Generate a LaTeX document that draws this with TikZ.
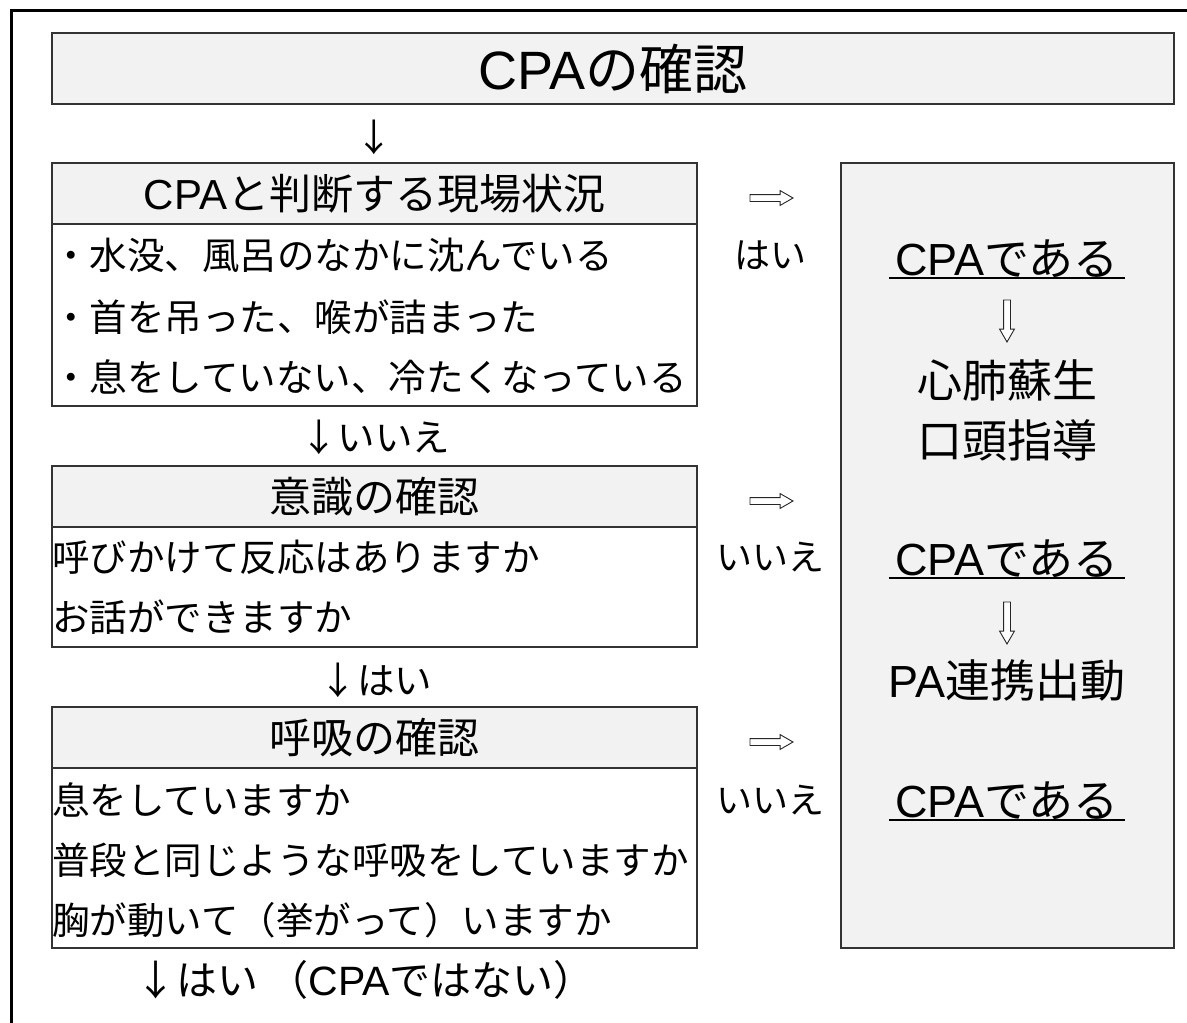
\documentclass[tikz,border=0pt]{standalone}
\usepackage{fontspec}
\setmainfont{Noto Sans CJK JP}
\newfontfamily\latinf{Liberation Sans}
\usetikzlibrary{shapes.arrows}
\definecolor{boxgray}{HTML}{F2F2F2}
\definecolor{edge}{HTML}{333333}
\newcommand\fsTitle{\fontsize{54}{60}\selectfont}
\newcommand\fsHead{\fontsize{42}{48}\selectfont}
\newcommand\fsBody{\fontsize{37.5}{44}\selectfont}
\newcommand\fsLab{\fontsize{36}{42}\selectfont}
\newcommand\fsBig{\fontsize{45}{52}\selectfont}
\newcommand\fsBot{\fontsize{41}{46}\selectfont}
\newcommand\LT[1]{{\latinf #1}}
\tikzset{
  box/.style={draw=edge, line width=1.6pt, inner sep=0pt, rectangle},
  hdrbox/.style={box, fill=boxgray, minimum width=645pt, minimum height=61pt,
    font=\fsHead, text height=37pt, text depth=5pt},
  bodybox/.style={box, fill=white, minimum width=645pt},
  rowtxt/.style={anchor=west, inner sep=0pt, font=\fsBody, text height=33pt, text depth=4.5pt},
  labtxt/.style={inner sep=0pt, font=\fsLab, text height=31.7pt, text depth=4.3pt},
  bigtxt/.style={inner sep=0pt, font=\fsBig, text height=39.6pt, text depth=5.4pt},
  flowtxt/.style={inner sep=0pt, font=\fsBody, text height=33pt, text depth=4.5pt},
  sidearrow/.style={single arrow, draw=black!85, fill=white, line width=0.9pt,
    minimum height=43pt, minimum width=14pt, inner sep=3pt, single arrow head extend=4pt,
    single arrow tip angle=60},
  downarrow/.style={sidearrow, shape border rotate=270, minimum height=42pt},
  uline/.style={line width=2.6pt, draw=black}
}
\begin{document}
\begin{tikzpicture}[x=1pt,y=-1pt]
\useasboundingbox (0,0) rectangle (1187,1023);
% outer frame (cropped at right and bottom)
\coordinate (fa) at (1187,10);
\coordinate (fb) at (11,10);
\coordinate (fc) at (11,1023);
\draw[line width=3pt, black] (fa) -- (fb) -- (fc);

% title
\node[box, fill=boxgray, minimum width=1122pt, minimum height=71pt,
  font=\fsTitle, text height=47.5pt, text depth=6.5pt] (title) at (613,68.5) {\LT{CPA}の確認};
\node[flowtxt] (ar0) at (374,137) {↓};

% box 1
\node[bodybox, minimum height=182pt] (b1) at (374.5,315) {};
\node[hdrbox] (h1) at (374.5,193.5) {\LT{CPA}と判断する現場状況};
\node[rowtxt] (r11) at (52,255) {・水没、風呂のなかに沈んでいる};
\node[rowtxt] (r12) at (52,317) {・首を吊った、喉が詰まった};
\node[rowtxt] (r13) at (52,377) {・息をしていない、冷たくなっている};
\node[flowtxt] (ar1) at (375,437) {↓いいえ};

% box 2
\node[bodybox, minimum height=120pt] (b2) at (374.5,587) {};
\node[hdrbox] (h2) at (374.5,496.5) {意識の確認};
\node[rowtxt] (r21) at (52,557) {呼びかけて反応はありますか};
\node[rowtxt] (r22) at (52,617) {お話ができますか};
\node[flowtxt] (ar2) at (376,680) {↓はい};

% box 3
\node[bodybox, minimum height=180pt] (b3) at (374.5,858) {};
\node[hdrbox] (h3) at (374.5,737.5) {呼吸の確認};
\node[rowtxt] (r31) at (52,800) {息をしていますか};
\node[rowtxt] (r32) at (52,860) {普段と同じような呼吸をしていますか};
\node[rowtxt] (r33) at (52,920) {胸が動いて（挙がって）いますか};
\node[inner sep=0pt, font=\fsBot, text height=36pt, text depth=4.9pt] (ar3) at (365,980) {↓はい （\LT{CPA}ではない）};

% side arrows and labels
\node[sidearrow] (s1) at (768.5,198) {};
\node[sidearrow] (s2) at (768.5,501) {};
\node[sidearrow] (s3) at (768.5,742) {};
\node[labtxt] (l1) at (770,255) {はい};
\node[labtxt] (l2) at (770,557) {いいえ};
\node[labtxt] (l3) at (770,800) {いいえ};

% right box
\node[box, fill=boxgray, minimum width=333pt, minimum height=785pt] (rb) at (1007.5,555.5) {};
\node[bigtxt] (c1) at (1007,258) {\LT{CPA}である};
\draw[uline] ([xshift=-6pt,yshift=-20pt]c1.center -| c1.west) -- ([xshift=6pt,yshift=-20pt]c1.center -| c1.east);
\node[downarrow] (d1) at (1007,318) {};
\node[bigtxt] (t1) at (1007,380) {心肺蘇生};
\node[bigtxt] (t2) at (1007,440) {口頭指導};
\node[bigtxt] (c2) at (1007,558) {\LT{CPA}である};
\draw[uline] ([xshift=-6pt,yshift=-20pt]c2.center -| c2.west) -- ([xshift=6pt,yshift=-20pt]c2.center -| c2.east);
\node[downarrow] (d2) at (1007,620) {};
\node[bigtxt] (t3) at (1007,680) {\LT{PA}連携出動};
\node[bigtxt] (c3) at (1007,800) {\LT{CPA}である};
\draw[uline] ([xshift=-6pt,yshift=-20pt]c3.center -| c3.west) -- ([xshift=6pt,yshift=-20pt]c3.center -| c3.east);
\end{tikzpicture}
\end{document}
